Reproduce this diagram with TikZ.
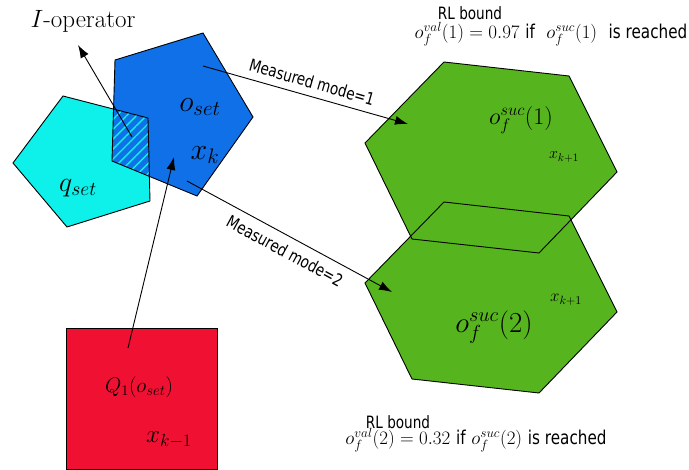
\RequirePackage{fix-cm}
\documentclass[tikz,border=0pt]{standalone}
\usepackage{fontspec}
\newfontfamily\lbl[FakeStretch=0.8]{DejaVu Sans}
\usetikzlibrary{arrows.meta,patterns.meta}
\definecolor{cyanc}{RGB}{14,240,234}
\definecolor{bluec}{RGB}{16,112,232}
\definecolor{greenc}{RGB}{86,181,30}
\definecolor{redc}{RGB}{240,16,50}
\newcommand\fs[1]{\fontsize{#1}{#1}\selectfont}
\begin{document}
\begin{tikzpicture}[x=1pt,y=-1pt,
  outl/.style={draw=black,line width=0.9pt,line join=miter},
  arr/.style={draw=black,line width=0.9pt,-{Latex[length=13pt,width=9pt]}},
  lab/.style={inner sep=0pt,outer sep=0pt},
  sl/.style={inner sep=0pt,font=\lbl\fs{17}}]
\useasboundingbox (0,0) rectangle (689,470);
% shapes
\def\cyanpath{(63,96) -- (148,118) -- (150,201) -- (67,227) -- (13,163) -- cycle}
\def\bluepath{(115,60) -- (203,33) -- (253,117) -- (197,196) -- (112,161) -- cycle}
\fill[cyanc] \cyanpath;
\fill[bluec] \bluepath;
\begin{scope}
  \clip \cyanpath;
  \fill[pattern={Lines[angle=45,distance=7pt,line width=1.4pt]},pattern color=cyanc] \bluepath;
\end{scope}
\draw[outl] \bluepath;
\draw[outl] \cyanpath;
% red square
\path[fill=redc,outl] (66,328) rectangle (217,469);
% green hexagons
\def\hexA{(444,62) -- (569,76) -- (617,172) -- (539,253) -- (412,239) -- (365,143) -- cycle}
\def\hexB{(444,202) -- (569,216) -- (617,312) -- (539,393) -- (412,379) -- (365,283) -- cycle}
\fill[greenc] \hexA;
\fill[greenc] \hexB;
\draw[outl] \hexA;
\draw[outl] \hexB;
% labels
\node[lab] (Iop) at (83,21) {\fs{25}$I$-operator};
\node[lab] (oset) at (200,107) {\fs{30}$o_{set}$};
\node[lab] (xk) at (205,155) {\fs{30}$x_k$};
\node[lab] (qset) at (78,188) {\fs{28}$q_{set}$};
\node[lab] (Q1) at (139,387) {\fs{21}$Q_1(o_{set})$};
\node[lab] (xkm) at (169,440) {\fs{25}$x_{k-1}$};
\node[lab] (os1) at (521,120) {\fs{24}$o_f^{suc}(1)$};
\node[lab] (xkpa) at (564,157) {\fs{16}$x_{k+1}$};
\node[lab] (os2) at (494,327) {\fs{29}$o_f^{suc}(2)$};
\node[lab] (xkpb) at (566,300) {\fs{17}$x_{k+1}$};
\node[sl] (rla) at (470,13) {RL bound};
\node[lab] (rlav) at (551,34) {\fs{19}$o_f^{val}(1)=0.97$ {\lbl if} \ $o_f^{suc}(1)$ \ {\lbl is reached}};
\node[sl] (rlb) at (398,422) {RL bound};
\node[lab] (rlbv) at (476,440) {\fs{19}$o_f^{val}(2)=0.32$ {\lbl if} $o_f^{suc}(2)$ {\lbl is reached}};
\node[sl,rotate=-16] (mm1) at (312,82) {Measured mode=1};
\node[sl,rotate=-28.5] (mm2) at (285,251) {Measured mode=2};
% connectors
\coordinate (ios) at (132,137);
\coordinate (ioe) at (78,45);
\coordinate (m1s) at (203,66);
\coordinate (m1e) at (408,124);
\coordinate (m2s) at (187,181);
\coordinate (m2e) at (392,292);
\coordinate (qs) at (128,348);
\coordinate (qe) at (174,157);
\draw[arr] (ios) -- (ioe);
\draw[arr] (m1s) -- (m1e);
\draw[arr] (m2s) -- (m2e);
\draw[arr] (qs) -- (qe);
\end{tikzpicture}
\end{document}
